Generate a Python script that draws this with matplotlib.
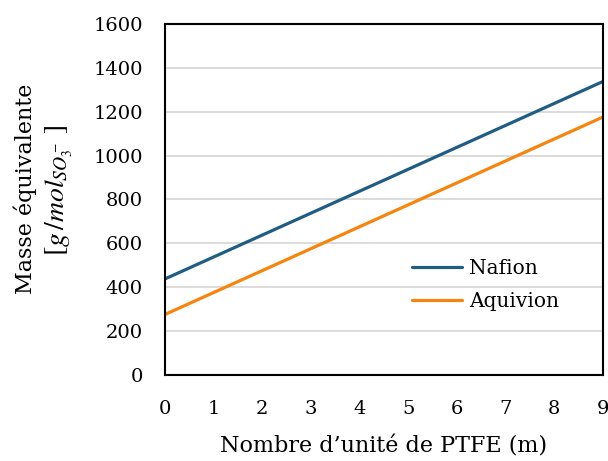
# Masse equivalente en fonction du nombre d'unites PTFE (Nafion / Aquivion)

import matplotlib
matplotlib.use("Agg")
from matplotlib import pyplot as plt

m_ptfe = [0, 1, 2, 3, 4, 5, 6, 7, 8, 9]
ew_nafion = [438, 538, 638, 738, 838, 938, 1038, 1138, 1238, 1338]
ew_aquivion = [276, 376, 476, 576, 676, 776, 876, 976, 1076, 1176]
y_ticks = [0, 200, 400, 600, 800, 1000, 1200, 1400, 1600]

plt.rcParams["font.family"] = ["DejaVu Serif"]
plt.rcParams["mathtext.fontset"] = "stix"

fig = plt.figure(figsize=(6.08, 4.61), dpi=100)
ax = fig.add_axes([165 / 608, 1 - 375 / 461, 438 / 608, 351 / 461])

ax.plot(m_ptfe, ew_nafion, color="#215d82", lw=2.3, label="Nafion", solid_capstyle="round")
ax.plot(m_ptfe, ew_aquivion, color="#f5850f", lw=2.3, label="Aquivion", solid_capstyle="round")

ax.set_xlim(0, 9)
ax.set_ylim(0, 1600)
ax.set_xticks(m_ptfe)
ax.set_yticks(y_ticks)
ax.tick_params(length=0, labelsize=14)
ax.tick_params(axis="x", pad=18)
ax.tick_params(axis="y", pad=16)
ax.grid(axis="y", color="#d9d9d9", lw=1.3)
ax.set_axisbelow(True)
for s in ax.spines.values():
    s.set_linewidth(1.5)
    s.set_color("black")

ax.set_xlabel("Nombre d\u2019unit\u00e9 de PTFE (m)", fontsize=16)
ax.xaxis.set_label_coords(0.5, -0.172)

# titre de l'axe y sur deux lignes (la ligne des unites est plus grande)
fig.text(25 / 608, 1 - 189 / 461, "Masse \u00e9quivalente", rotation=90,
         ha="center", va="center", fontsize=16)
fig.text(59 / 608, 1 - 190 / 461, "$[g\\,/mol_{SO_3^-}\\;]$", rotation=90,
         ha="center", va="center", fontsize=20)

ax.legend(loc="center left", bbox_to_anchor=(0.564, 0.256), frameon=False, fontsize=14.5,
          handlelength=2.5, handletextpad=0.35, labelspacing=0.7,
          borderpad=0, borderaxespad=0)

fig.savefig("out.png", dpi=100)
